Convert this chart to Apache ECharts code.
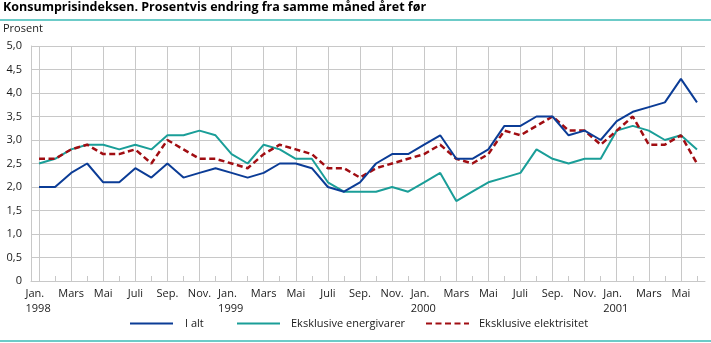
<!DOCTYPE html>
<html>
<head>
<meta charset="utf-8">
<script src="https://cdn.jsdelivr.net/npm/echarts@6/dist/echarts.min.js"></script>
<style>html,body{margin:0;padding:0;background:#fff;}#c{width:711px;height:343px;}</style>
</head>
<body>
<div id="c"></div>
<script>
const monthNames = ['Jan.','Feb.','Mars','April','Mai','Juni','Juli','Aug.','Sep.','Okt.','Nov.','Des.'];
const years = [1998, 1999, 2000, 2001];
const monthCount = 42;

const iAlt = [2.0,2.0,2.3,2.5,2.1,2.1,2.4,2.2,2.5,2.2,2.3,2.4,
              2.3,2.2,2.3,2.5,2.5,2.4,2.0,1.9,2.1,2.5,2.7,2.7,
              2.9,3.1,2.6,2.6,2.8,3.3,3.3,3.5,3.5,3.1,3.2,3.0,
              3.4,3.6,3.7,3.8,4.3,3.8];
const exEnergi = [2.5,2.6,2.8,2.9,2.9,2.8,2.9,2.8,3.1,3.1,3.2,3.1,
                  2.7,2.5,2.9,2.8,2.6,2.6,2.1,1.9,1.9,1.9,2.0,1.9,
                  2.1,2.3,1.7,1.9,2.1,2.2,2.3,2.8,2.6,2.5,2.6,2.6,
                  3.2,3.3,3.2,3.0,3.1,2.8];
const exElektr = [2.6,2.6,2.8,2.9,2.7,2.7,2.8,2.5,3.0,2.8,2.6,2.6,
                  2.5,2.4,2.7,2.9,2.8,2.7,2.4,2.4,2.2,2.4,2.5,2.6,
                  2.7,2.9,2.6,2.5,2.7,3.2,3.1,3.3,3.5,3.2,3.2,2.9,
                  3.2,3.5,2.9,2.9,3.1,2.5];

const categories = [];
for (let i = 0; i < monthCount; i++) {
  categories.push(monthNames[i % 12] + ' ' + years[Math.floor(i / 12)]);
}

const gridColor = '#c8c8c8';
const txt = '#1a1a1a';
const font = 'Open Sans';

// main plot area and a helper grid whose edges sit on the first/last category centres
const W = 711, gLeft = 31, gRight = 6;
const half = (W - gLeft - gRight) / monthCount / 2;

const legendBase = {itemWidth: 43, itemHeight: 12, padding: 0, itemStyle: {opacity: 0}};

const chart = echarts.init(document.getElementById('c'), null, {renderer: 'canvas'});
chart.setOption({
  animation: false,
  backgroundColor: '#fff',
  textStyle: {fontFamily: font},
  title: {
    text: 'Konsumprisindeksen. Prosentvis endring fra samme måned året før',
    left: 3, top: 1, padding: 0,
    textStyle: {fontFamily: font, fontSize: 12.5, fontWeight: 'bold', color: '#000'}
  },
  graphic: [
    {type: 'rect', left: 0, top: 19, shape: {width: 711, height: 2}, style: {fill: '#6ccbc8'}},
    {type: 'rect', left: 0, top: 340, shape: {width: 711, height: 2}, style: {fill: '#6ccbc8'}},
    {type: 'text', left: 3, top: 23, style: {text: 'Prosent', font: '11px "Open Sans"', fill: txt}}
  ],
  grid: [
    {left: gLeft, right: gRight, top: 46, bottom: 62},
    {left: gLeft + half, right: gRight + half, top: 46, bottom: 62}
  ],
  legend: [
    Object.assign({data: ['I alt'], left: 129, top: 318,
      textStyle: {fontFamily: font, fontSize: 11, color: txt, padding: [0,0,0,7]}}, legendBase),
    Object.assign({data: ['Eksklusive energivarer'], left: 236, top: 318,
      textStyle: {fontFamily: font, fontSize: 11, color: txt, padding: [0,0,0,6]}}, legendBase),
    Object.assign({data: ['Eksklusive elektrisitet'], left: 425, top: 318,
      textStyle: {fontFamily: font, fontSize: 11, color: txt, padding: [0,0,0,5]}}, legendBase)
  ],
  xAxis: [{
    type: 'category', gridIndex: 0,
    data: categories,
    boundaryGap: true,
    axisLine: {show: true, lineStyle: {color: gridColor, width: 1}},
    axisTick: {show: true, inside: true, length: 5, alignWithLabel: true, interval: 0,
               lineStyle: {color: gridColor, width: 1}},
    splitLine: {show: false},
    axisLabel: {
      interval: 1, margin: 5, color: txt, fontSize: 11, fontFamily: font, lineHeight: 15,
      formatter: function (val) {
        const parts = val.split(' ');
        if (parts[0] === 'Jan.') {
          return '{j|' + parts[0] + '}\n{j|' + parts[1] + '}';
        }
        return parts[0];
      },
      rich: {j: {width: 27, align: 'left', fontSize: 11, fontFamily: font, color: txt, lineHeight: 15}}
    }
  }, {
    // helper axis: vertical grid lines at every second month (category centres)
    type: 'value', gridIndex: 1,
    min: 0, max: monthCount - 1, interval: 2,
    axisLine: {show: false}, axisTick: {show: false}, axisLabel: {show: false},
    splitLine: {show: true, showMinLine: true, showMaxLine: false,
                lineStyle: {color: gridColor, width: 1}}
  }],
  yAxis: [{
    type: 'value', gridIndex: 0, min: 0, max: 5, interval: 0.5,
    axisLine: {show: true, lineStyle: {color: gridColor, width: 1}},
    axisTick: {show: false},
    splitLine: {show: true, lineStyle: {color: gridColor, width: 1}},
    axisLabel: {
      margin: 9, color: txt, fontSize: 11, fontFamily: font,
      formatter: function (v) { return v === 0 ? '0' : v.toFixed(1).replace('.', ','); }
    }
  }, {
    type: 'value', gridIndex: 1, min: 0, max: 5, show: false
  }],
  series: [
    {name: 'I alt', type: 'line', data: iAlt, showSymbol: false, symbol: 'none', z: 5,
     lineStyle: {color: '#0b3c96', width: 2}, itemStyle: {color: '#0b3c96'}},
    {name: 'Eksklusive energivarer', type: 'line', data: exEnergi, showSymbol: false, symbol: 'none', z: 3,
     lineStyle: {color: '#1a9e98', width: 2}, itemStyle: {color: '#1a9e98'}},
    {name: 'Eksklusive elektrisitet', type: 'line', data: exElektr, showSymbol: false, symbol: 'none', z: 4,
     lineStyle: {color: '#a00d12', width: 2.5, type: [6, 3.5]}, itemStyle: {color: '#a00d12'}}
  ]
});
</script>
</body>
</html>
